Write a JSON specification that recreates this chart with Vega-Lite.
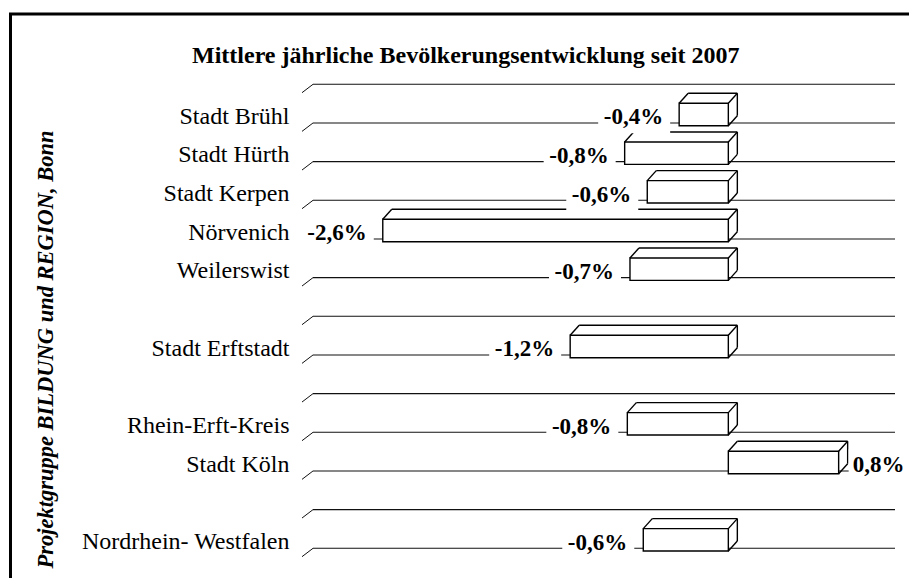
{
  "$schema": "https://vega.github.io/schema/vega-lite/v6.json",
  "width": 910.5,
  "height": 576,
  "autosize": "none",
  "padding": {"left": 10.5, "top": 14, "right": -12, "bottom": -12},
  "background": "white",
  "config": {
    "locale": {"number": {"decimal": ",", "thousands": ".", "grouping": [3], "currency": ["", " €"], "minus": "-"}},
    "view": {"stroke": "#000000", "strokeWidth": 3},
    "font": "Liberation Serif, Times New Roman, serif"
  },
  "title": {
    "text": "Mittlere jährliche Bevölkerungsentwicklung seit 2007",
    "font": "Liberation Serif, Times New Roman, serif", "fontSize": 24, "fontWeight": "bold", "color": "#000000",
    "anchor": "middle", "frame": "group", "offset": -48, "dy": 25, "baseline": "alphabetic", "dx": 0
  },
  "data": {"values": [
    {"name": "Stadt Brühl", "value": -0.0037},
    {"name": "Stadt Hürth", "value": -0.0078},
    {"name": "Stadt Kerpen", "value": -0.0061},
    {"name": "Nörvenich", "value": -0.026},
    {"name": "Weilerswist", "value": -0.0074},
    {"name": " ", "value": null},
    {"name": "Stadt Erftstadt", "value": -0.0119},
    {"name": "  ", "value": null},
    {"name": "Rhein-Erft-Kreis", "value": -0.0076},
    {"name": "Stadt Köln", "value": 0.0083},
    {"name": "   ", "value": null},
    {"name": "Nordrhein- Westfalen", "value": -0.0064}
  ]},
  "layer": [
    {
      "mark": {"type": "rule", "stroke": "#111111", "strokeWidth": 1.1},
      "encoding": {
        "x": {"datum": -0.03125, "type": "quantitative", "axis": null, "scale": {"domain": [-0.03125, 0.01254], "range": [302.5, 884.5], "nice": false, "zero": false}},
        "x2": {"datum": 0.01254},
        "y": {"field": "name", "type": "nominal", "bandPosition": 0,
          "scale": {"type": "band", "domain": ["Stadt Brühl", "Stadt Hürth", "Stadt Kerpen", "Nörvenich", "Weilerswist", " ", "Stadt Erftstadt", "  ", "Rhein-Erft-Kreis", "Stadt Köln", "   ", "Nordrhein- Westfalen"], "range": [70.3, 534.3], "paddingInner": 0, "paddingOuter": 0},
          "axis": {
            "title": "Projektgruppe BILDUNG und REGION, Bonn",
            "offset": -302.5, "domain": false, "ticks": false, "grid": false, "bandPosition": 0.5,
            "labelPadding": 24, "labelFontSize": 24, "labelFont": "Liberation Serif, Times New Roman, serif", "labelColor": "#000000",
            "labelOffset": 13, "labelBaseline": "middle", "labelLimit": 400,
            "titleFont": "Liberation Serif, Times New Roman, serif", "titleFontSize": 22.5, "titleFontWeight": "bold", "titleFontStyle": "italic",
            "titleColor": "#000000", "titleAngle": 270, "titleX": -268, "titleY": 335, "titleAlign": "center", "titleBaseline": "middle"
          }
        }
      }
    },
    {
      "transform": [{"filter": "datum.name == 'Nordrhein- Westfalen'"}],
      "mark": {"type": "rule", "stroke": "#111111", "strokeWidth": 1.1},
      "encoding": {
        "x": {"datum": -0.03125, "type": "quantitative", "axis": null},
        "x2": {"datum": 0.01254},
        "y": {"field": "name", "type": "nominal", "bandPosition": 1}
      }
    },
    {
      "mark": {"type": "rule", "stroke": "#111111", "strokeWidth": 1, "xOffset": -11, "yOffset": 8.4},
      "encoding": {
        "x": {"datum": -0.03125, "type": "quantitative", "axis": null},
        "x2": {"datum": -0.03125},
        "y": {"field": "name", "type": "nominal", "bandPosition": 0},
        "y2": {"field": "name", "bandPosition": 0}
      }
    },
    {
      "transform": [{"filter": "datum.name == 'Nordrhein- Westfalen'"}],
      "mark": {"type": "rule", "stroke": "#111111", "strokeWidth": 1, "xOffset": -11, "yOffset": 8.4},
      "encoding": {
        "x": {"datum": -0.03125, "type": "quantitative", "axis": null},
        "x2": {"datum": -0.03125},
        "y": {"field": "name", "type": "nominal", "bandPosition": 1},
        "y2": {"field": "name", "bandPosition": 1}
      }
    },
    {
      "transform": [{"filter": "datum.value != null"}],
      "mark": {"type": "rect", "fill": "white", "stroke": "#000000", "strokeWidth": 1.4, "yOffset": 19, "y2Offset": 41.4},
      "encoding": {
        "x": {"field": "value", "type": "quantitative", "axis": null},
        "x2": {"datum": 0},
        "y": {"field": "name", "type": "nominal", "bandPosition": 0},
        "y2": {"field": "name", "bandPosition": 0}
      }
    },
    {
      "transform": [{"filter": "datum.value != null"}],
      "mark": {"type": "rule", "stroke": "#000000", "strokeWidth": 1.4, "xOffset": 9, "x2Offset": 9, "yOffset": 9},
      "encoding": {
        "x": {"field": "value", "type": "quantitative", "axis": null},
        "x2": {"datum": 0},
        "y": {"field": "name", "type": "nominal", "bandPosition": 0}
      }
    },
    {
      "transform": [{"filter": "datum.value != null"}],
      "mark": {"type": "rule", "stroke": "#000000", "strokeWidth": 1.4, "x2Offset": 9, "yOffset": 19, "y2Offset": 9},
      "encoding": {
        "x": {"field": "value", "type": "quantitative", "axis": null},
        "x2": {"field": "value"},
        "y": {"field": "name", "type": "nominal", "bandPosition": 0},
        "y2": {"field": "name", "bandPosition": 0}
      }
    },
    {
      "transform": [{"filter": "datum.value != null"}],
      "mark": {"type": "rule", "stroke": "#000000", "strokeWidth": 1.4, "x2Offset": 9, "yOffset": 19, "y2Offset": 9},
      "encoding": {
        "x": {"datum": 0, "type": "quantitative", "axis": null},
        "x2": {"datum": 0},
        "y": {"field": "name", "type": "nominal", "bandPosition": 0},
        "y2": {"field": "name", "bandPosition": 0}
      }
    },
    {
      "transform": [{"filter": "datum.value < 0"}],
      "mark": {"type": "rule", "stroke": "#000000", "strokeWidth": 1.4, "x2Offset": 9, "yOffset": 41.4, "y2Offset": 31.4},
      "encoding": {
        "x": {"datum": 0, "type": "quantitative", "axis": null},
        "x2": {"datum": 0},
        "y": {"field": "name", "type": "nominal", "bandPosition": 0},
        "y2": {"field": "name", "bandPosition": 0}
      }
    },
    {
      "transform": [{"filter": "datum.value < 0"}],
      "mark": {"type": "rule", "stroke": "#000000", "strokeWidth": 1.4, "xOffset": 9, "yOffset": 9, "y2Offset": 31.4},
      "encoding": {
        "x": {"datum": 0, "type": "quantitative", "axis": null},
        "y": {"field": "name", "type": "nominal", "bandPosition": 0},
        "y2": {"field": "name", "bandPosition": 0}
      }
    },
    {
      "transform": [{"filter": "datum.value > 0"}],
      "mark": {"type": "rule", "stroke": "#000000", "strokeWidth": 1.4, "x2Offset": 9, "yOffset": 41.4, "y2Offset": 31.4},
      "encoding": {
        "x": {"field": "value", "type": "quantitative", "axis": null},
        "x2": {"field": "value"},
        "y": {"field": "name", "type": "nominal", "bandPosition": 0},
        "y2": {"field": "name", "bandPosition": 0}
      }
    },
    {
      "transform": [{"filter": "datum.value > 0"}],
      "mark": {"type": "rule", "stroke": "#000000", "strokeWidth": 1.4, "xOffset": 9, "yOffset": 9, "y2Offset": 31.4},
      "encoding": {
        "x": {"field": "value", "type": "quantitative", "axis": null},
        "y": {"field": "name", "type": "nominal", "bandPosition": 0},
        "y2": {"field": "name", "bandPosition": 0}
      }
    },
    {
      "transform": [{"filter": "datum.value < 0"}],
      "mark": {"type": "rect", "fill": "white", "xOffset": -81, "x2Offset": -9, "yOffset": 17, "y2Offset": 49},
      "encoding": {
        "x": {"field": "value", "type": "quantitative", "axis": null},
        "x2": {"field": "value"},
        "y": {"field": "name", "type": "nominal", "bandPosition": 0},
        "y2": {"field": "name", "bandPosition": 0}
      }
    },
    {
      "transform": [{"filter": "datum.value > 0"}],
      "mark": {"type": "rect", "fill": "white", "xOffset": 10, "x2Offset": 75, "yOffset": 17, "y2Offset": 49},
      "encoding": {
        "x": {"field": "value", "type": "quantitative", "axis": null},
        "x2": {"field": "value"},
        "y": {"field": "name", "type": "nominal", "bandPosition": 0},
        "y2": {"field": "name", "bandPosition": 0}
      }
    },
    {
      "transform": [{"filter": "datum.value < 0"}],
      "mark": {"type": "text", "align": "right", "baseline": "middle", "xOffset": -16, "yOffset": 33, "font": "Liberation Serif, Times New Roman, serif", "fontSize": 23, "fontWeight": "bold", "color": "#000000"},
      "encoding": {
        "x": {"field": "value", "type": "quantitative", "axis": null},
        "y": {"field": "name", "type": "nominal", "bandPosition": 0},
        "text": {"field": "value", "type": "quantitative", "format": ".1%"}
      }
    },
    {
      "transform": [{"filter": "datum.value > 0"}],
      "mark": {"type": "text", "align": "left", "baseline": "middle", "xOffset": 14, "yOffset": 33, "font": "Liberation Serif, Times New Roman, serif", "fontSize": 23, "fontWeight": "bold", "color": "#000000"},
      "encoding": {
        "x": {"field": "value", "type": "quantitative", "axis": null},
        "y": {"field": "name", "type": "nominal", "bandPosition": 0},
        "text": {"field": "value", "type": "quantitative", "format": ".1%"}
      }
    }
  ]
}
